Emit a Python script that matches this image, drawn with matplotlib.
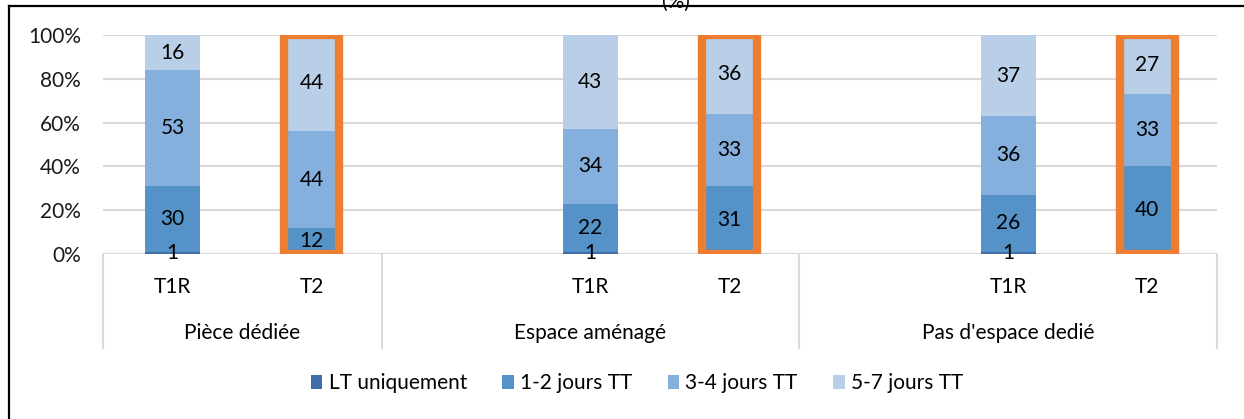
import numpy as np
import matplotlib.pyplot as plt
from matplotlib.lines import Line2D

plt.rcParams['font.family'] = ['Lato', 'DejaVu Sans']

groups = ["Pièce dédiée", "Espace aménagé", "Pas d'espace dedié"]
# category slots along the axis (empty slot = blank category in the source chart)
slots = [["T1R", "T2"], ["", "T1R", "T2"], ["", "T1R", "T2"]]

series = ["LT uniquement", "1-2 jours TT", "3-4 jours TT", "5-7 jours TT"]
colors = ['#3f6fa6', '#5592c8', '#85afdc', '#b9cfe8']

# values per bar, in slot order (T1R, T2 for each group)
lt_uniq = [1, 0, 1, 0, 1, 0]
j12 = [30, 12, 22, 31, 26, 40]
j34 = [53, 44, 34, 33, 36, 33]
j57 = [16, 44, 43, 36, 37, 27]
values = [lt_uniq, j12, j34, j57]
highlight = ["T2"]

# positions of the bars from the slot layout
xpos, xlab, bounds = [], [], [-0.5]
i = 0
for g in slots:
    for s in g:
        if s:
            xpos.append(i)
            xlab.append(s)
        i += 1
    bounds.append(i - 0.5)
xpos = np.array(xpos)
ncat = i

fs = 15
fig = plt.figure(figsize=(12.44, 4.19), dpi=100)
ax = fig.add_axes([103 / 1244, 1 - 254 / 419, 1114 / 1244, 219 / 419])

w = 0.395
bottom = np.zeros(len(xpos))
for name, vals, c in zip(series, values, colors):
    vals = np.array(vals, dtype=float)
    ax.bar(xpos, vals, w, bottom=bottom, color=c, label=name, zorder=3)
    for x, b, v in zip(xpos, bottom, vals):
        if v > 0:
            ax.text(x, b + v / 2, f"{v:.0f}", ha='center', va='center',
                    fontsize=fs, color='black', zorder=6)
    bottom += vals

# orange frames around the T2 bars
hx = [x for x, l in zip(xpos, xlab) if l in highlight]
ht = [t for t, l in zip(bottom, xlab) if l in highlight]
ax.bar(hx, ht, w, fill=False, edgecolor='#ed7d31', linewidth=6,
       joinstyle='miter', zorder=5)

ax.set_xlim(-0.5, ncat - 0.5)
ax.set_ylim(0, 100)
ax.set_yticks(range(0, 101, 20))
ax.set_yticklabels([f"{t}%" for t in range(0, 101, 20)])
ax.tick_params(axis='y', length=0, pad=16, labelsize=fs, labelcolor='#1a1a1a')
ax.yaxis.grid(True, color='#d9d9d9', linewidth=1.5, zorder=0)
ax.set_xticks([])
for sp in ax.spines.values():
    sp.set_visible(False)
ax.axhline(0, color='#d9d9d9', linewidth=1.5, zorder=2)

# multi-level category axis
tr = ax.get_xaxis_transform()
for x, l in zip(xpos, xlab):
    ax.text(x, -33 / 219, l, transform=tr, ha='center', va='center', fontsize=fs)
for gi, g in enumerate(groups):
    ax.text((bounds[gi] + bounds[gi + 1]) / 2, -79 / 219, g, transform=tr,
            ha='center', va='center', fontsize=fs)
for b in bounds:
    ax.plot([b, b], [0, -94 / 219], transform=tr, color='#d9d9d9',
            linewidth=1.5, clip_on=False)

ax.legend(loc='center', bbox_to_anchor=(0.512, 0.086),
          bbox_transform=fig.transFigure, ncol=4, frameon=False,
          fontsize=fs, handlelength=0.55, handleheight=0.65,
          handletextpad=0.3, columnspacing=1.7)

# cropped title and outer frame
fig.text(0.543, 0.995, "(%)", ha='center', va='center', fontsize=fs)
fig.add_artist(Line2D([9 / 1244, 9 / 1244], [0, 1 - 6.5 / 419],
                      color='black', linewidth=1.6))
fig.add_artist(Line2D([9 / 1244, 1], [1 - 6.5 / 419, 1 - 6.5 / 419],
                      color='black', linewidth=1.6))

fig.savefig('out.png', dpi=100)
